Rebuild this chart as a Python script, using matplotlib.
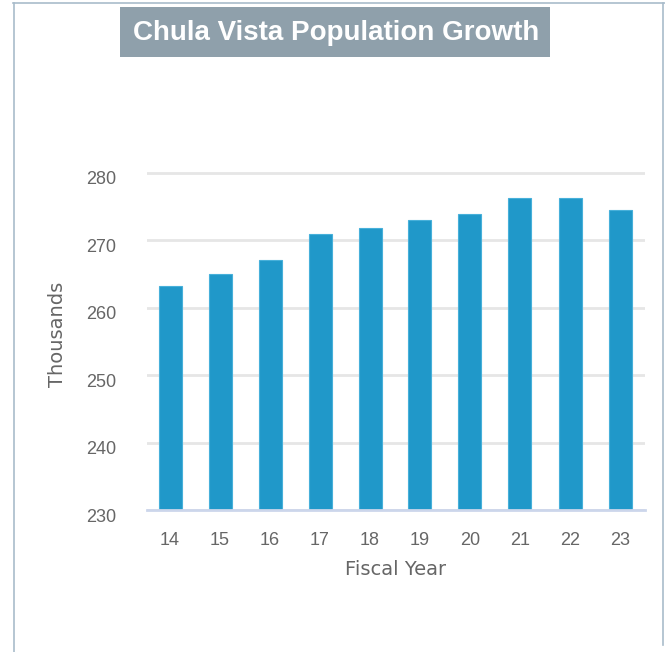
import matplotlib
matplotlib.use("Agg")
import matplotlib.pyplot as plt
from matplotlib.patches import Rectangle
from matplotlib.lines import Line2D
from matplotlib.transforms import ScaledTranslation

years = ["14", "15", "16", "17", "18", "19", "20", "21", "22", "23"]
population = [263.2, 265.0, 267.1, 270.9, 271.8, 273.0, 273.9, 276.3, 276.3, 274.5]
yticks = [230, 240, 250, 260, 270, 280]
title = "Chula Vista Population Growth"

W, H = 665, 652
fig = plt.figure(figsize=(W / 100, H / 100), dpi=100)
fig.patch.set_facecolor("white")

# frame lines
frame_col = "#a9bccb"
fig.add_artist(Line2D([13 / W, 1], [1 - 3 / H, 1 - 3 / H], transform=fig.transFigure, color=frame_col, lw=1.2))
fig.add_artist(Line2D([14 / W, 14 / W], [0, 1 - 3 / H], transform=fig.transFigure, color=frame_col, lw=1.2))
fig.add_artist(Line2D([663 / W, 663 / W], [1 - 645 / H, 1 - 3 / H], transform=fig.transFigure, color=frame_col, lw=1.2))

# title box
fig.add_artist(Rectangle((120 / W, 1 - 57 / H), 430 / W, 50 / H, transform=fig.transFigure,
                         facecolor="#8fa0ab", edgecolor="none"))
fig.text(336 / W, 1 - 33 / H, title, ha="center", va="center", color="white",
         fontsize=20, fontweight="bold", family="Liberation Sans")

left, right = 147, 645
bottom_px = 510
ymin, ymax = 230, 282
ppu = (510 - 173) / 50.0
top_px = bottom_px - (ymax - ymin) * ppu
ax = fig.add_axes([left / W, 1 - bottom_px / H, (right - left) / W, (bottom_px - top_px) / H])

x = list(range(len(years)))
ax.bar(x, [p - ymin for p in population], bottom=ymin, width=0.46, color="#2098c9",
       edgecolor="#47b0da", linewidth=0.8, zorder=3)
ax.set_xlim(-0.46, 9.5)
ax.set_ylim(ymin, ymax)
ax.set_yticks(yticks)
ax.set_xticks(x)
ax.set_xticklabels(years)
for s in ["top", "right", "left"]:
    ax.spines[s].set_visible(False)
ax.spines["bottom"].set_color("#ccd6eb")
ax.spines["bottom"].set_linewidth(2)
ax.spines["bottom"].set_zorder(4)
ax.grid(axis="y", color="#e6e6e6", linewidth=2, zorder=0)
ax.tick_params(axis="both", length=0, colors="#666666", labelsize=13)
ax.tick_params(axis="y", pad=22)
ax.tick_params(axis="x", pad=16)
for t in ax.get_xticklabels():
    t.set_family("Liberation Sans")
offset = ScaledTranslation(0, -5 / 100, fig.dpi_scale_trans)
for t in ax.get_yticklabels():
    t.set_family("Liberation Sans")
    t.set_transform(t.get_transform() + offset)
ax.set_xlabel("Fiscal Year", fontsize=14, color="#666666", family="DejaVu Sans", labelpad=8)
ax.set_ylabel("Thousands", fontsize=14, color="#666666", family="DejaVu Sans", labelpad=14)

fig.savefig("out.png", dpi=100)
